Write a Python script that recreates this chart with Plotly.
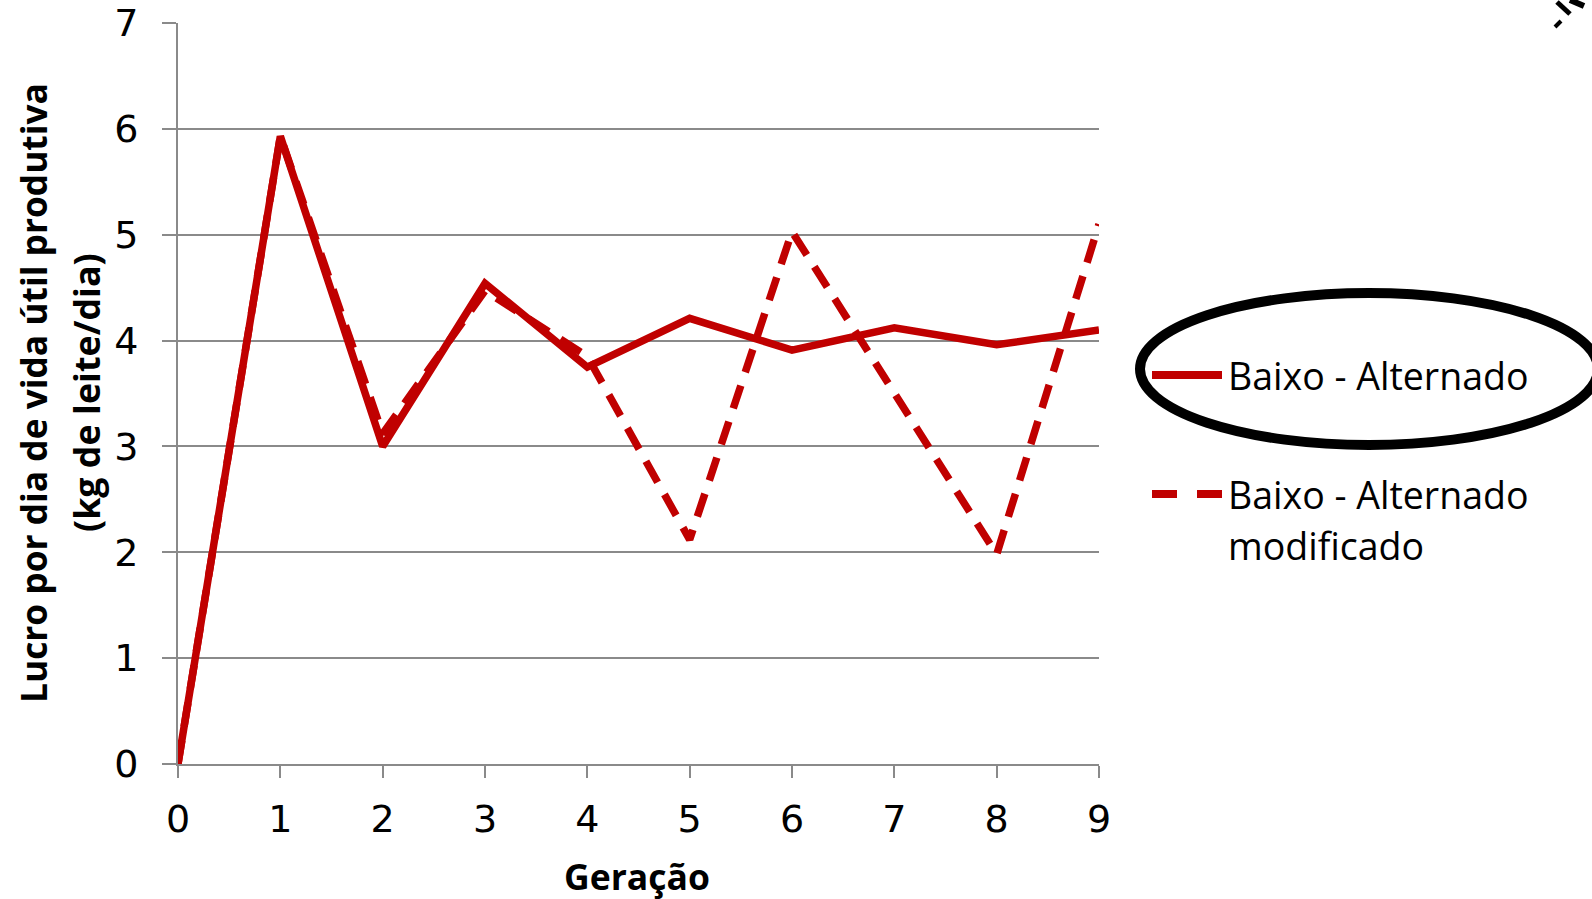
import plotly.graph_objects as go

geracao = [0, 1, 2, 3, 4, 5, 6, 7, 8, 9]
baixo_alternado = [0.0, 5.93, 3.0, 4.54, 3.75, 4.21, 3.91, 4.12, 3.96, 4.1]
baixo_alternado_mod = [0.0, 5.93, 3.12, 4.47, 3.85, 2.12, 5.03, 3.5, 1.98, 5.1]
y_ticks = [0, 1, 2, 3, 4, 5, 6, 7]
x_ticks = [0, 1, 2, 3, 4, 5, 6, 7, 8, 9]

RED = "#C00000"
GRID = "#8a8a8a"

W, H = 1592, 899
L, R, T, B = 178, 493, 23, 135
PW, PH = W - L - R, H - T - B


def px(x):
    return (x - L) / PW


def py(y):
    return (H - B - y) / PH


fig = go.Figure()
fig.add_trace(go.Scatter(
    x=geracao, y=baixo_alternado, mode="lines", name="Baixo - Alternado",
    line=dict(color=RED, width=7.5), cliponaxis=False, showlegend=False))
fig.add_trace(go.Scatter(
    x=geracao, y=baixo_alternado_mod, mode="lines", name="Baixo - Alternado modificado",
    line=dict(color=RED, width=7.5, dash="24px,14px"), cliponaxis=False, showlegend=False))

fig.update_layout(
    width=W, height=H,
    margin=dict(l=L, r=R, t=T, b=B, pad=0, autoexpand=False),
    paper_bgcolor="white", plot_bgcolor="white",
    font=dict(family="DejaVu Sans", color="black"),
    xaxis=dict(range=[0, 9], tickvals=x_ticks, showgrid=False, zeroline=False,
               showline=True, linecolor=GRID, linewidth=2, automargin=False,
               ticks="outside", ticklen=12, tickwidth=2, tickcolor=GRID,
               tickfont=dict(family="DejaVu Sans", size=38, color="black"),
               ticklabelstandoff=8),
    yaxis=dict(range=[0, 7], tickvals=y_ticks, showgrid=True, gridcolor=GRID, gridwidth=2,
               zeroline=False, showline=True, linecolor=GRID, linewidth=2, automargin=False,
               ticks="outside", ticklen=14, tickwidth=2, tickcolor=GRID,
               tickfont=dict(family="DejaVu Sans", size=38, color="black"),
               ticklabelstandoff=16),
)

ann = []
# axis titles
ann.append(dict(text="<b>Geração</b>", x=px(637), y=py(876), xref="paper", yref="paper",
                showarrow=False, xanchor="center", yanchor="middle",
                font=dict(family="Open Sans", size=35.5, color="black")))
ann.append(dict(text="<b>Lucro por dia de vida útil produtiva</b>", x=px(33), y=py(393),
                xref="paper", yref="paper", showarrow=False, textangle=-90,
                xanchor="center", yanchor="middle",
                font=dict(family="Open Sans", size=35.3, color="black")))
ann.append(dict(text="<b>(kg de leite/dia)</b>", x=px(86), y=py(393),
                xref="paper", yref="paper", showarrow=False, textangle=-90,
                xanchor="center", yanchor="middle",
                font=dict(family="Open Sans", size=35.8, color="black")))
# legend text
leg_font = dict(family="Open Sans", size=37.5, color="black")
ann.append(dict(text="Baixo - Alternado", x=px(1226), y=py(375), xref="paper", yref="paper",
                showarrow=False, xanchor="left", yanchor="middle", font=leg_font))
ann.append(dict(text="Baixo - Alternado", x=px(1226), y=py(494), xref="paper", yref="paper",
                showarrow=False, xanchor="left", yanchor="middle", font=leg_font))
ann.append(dict(text="modificado", x=px(1226), y=py(545), xref="paper", yref="paper",
                showarrow=False, xanchor="left", yanchor="middle", font=leg_font))
fig.update_layout(annotations=ann)

shapes = []
shapes.append(dict(type="line", xref="paper", yref="paper", x0=px(1152), x1=px(1222),
                   y0=py(375), y1=py(375), line=dict(color=RED, width=8)))
shapes.append(dict(type="line", xref="paper", yref="paper", x0=px(1152), x1=px(1222),
                   y0=py(494), y1=py(494), line=dict(color=RED, width=8, dash="25px,20px")))
shapes.append(dict(type="circle", xref="paper", yref="paper", x0=px(1140), x1=px(1598),
                   y0=py(445), y1=py(293), line=dict(color="black", width=10)))
# cropped black strokes in the top-right corner
shapes.append(dict(type="line", xref="paper", yref="paper", x0=px(1557), x1=px(1570),
                   y0=py(2), y1=py(14), line=dict(color="black", width=5)))
shapes.append(dict(type="line", xref="paper", yref="paper", x0=px(1570), x1=px(1584),
                   y0=py(0), y1=py(6), line=dict(color="black", width=6)))
shapes.append(dict(type="line", xref="paper", yref="paper", x0=px(1555), x1=px(1561),
                   y0=py(27), y1=py(21), line=dict(color="black", width=4)))
fig.update_layout(shapes=shapes)

fig.write_html("out.html", config={"displayModeBar": False},
               post_script="document.body.style.margin='0';")
